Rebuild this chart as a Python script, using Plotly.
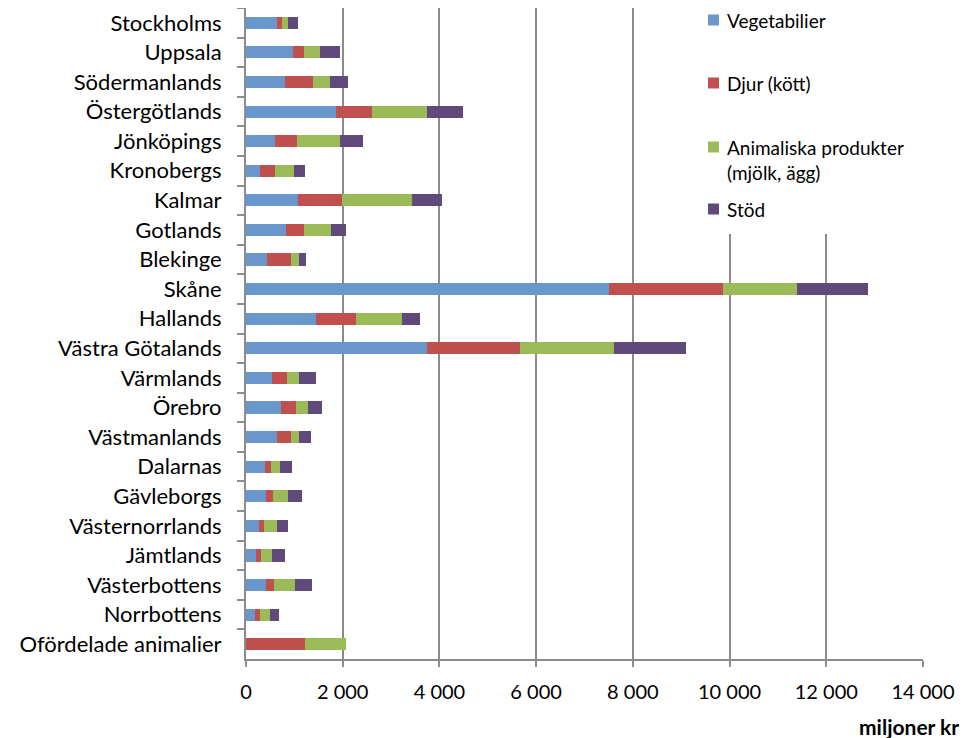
import plotly.graph_objects as go

categories = ["Stockholms", "Uppsala", "Södermanlands", "Östergötlands", "Jönköpings",
              "Kronobergs", "Kalmar", "Gotlands", "Blekinge", "Skåne", "Hallands",
              "Västra Götalands", "Värmlands", "Örebro", "Västmanlands", "Dalarnas",
              "Gävleborgs", "Västernorrlands", "Jämtlands", "Västerbottens",
              "Norrbottens", "Ofördelade animalier"]

vegetabilier = [641, 979, 799, 1861, 606, 290, 1082, 827, 441, 7514, 1448,
                3750, 544, 716, 633, 393, 420, 269, 207, 420, 192, 0]
djur = [104, 213, 579, 737, 449, 302, 910, 373, 496, 2343, 833,
        1908, 304, 310, 289, 116, 145, 95, 95, 151, 89, 1212]
animaliska = [124, 338, 366, 1152, 896, 407, 1448, 550, 151, 1545, 945,
              1952, 240, 262, 174, 200, 295, 269, 236, 434, 207, 862]
stod = [199, 406, 358, 730, 469, 228, 620, 318, 145, 1454, 364,
        1482, 352, 276, 240, 234, 304, 236, 260, 360, 194, 0]

series_names = ["Vegetabilier", "Djur (kött)",
                "Animaliska produkter<br>(mjölk, ägg)", "Stöd"]
series_values = [vegetabilier, djur, animaliska, stod]
series_colors = ["#6A97CB", "#C0504D", "#9BBB59", "#604A7B"]

fig = go.Figure()
for name, vals, color in zip(series_names, series_values, series_colors):
    fig.add_trace(go.Bar(
        y=categories, x=vals, name=name.replace("<br>", " "), orientation="h",
        marker=dict(color=color, line=dict(width=0)), showlegend=False,
    ))

font_family = "Lato, Carlito, 'Liberation Sans', sans-serif"
grid_color = "#8C8C8C"

# plot area in screenshot pixels (page has 8px body margin)
PX0, PX1, PY0, PY1 = 246, 923, 8, 659


def px_x(p):
    return (p - PX0) / (PX1 - PX0)


def px_y(p):
    return (PY1 - p) / (PY1 - PY0)


shapes = [dict(type="rect", xref="paper", yref="paper",
               x0=px_x(700), x1=1.0, y0=px_y(234), y1=1.0,
               fillcolor="white", line=dict(width=0), layer="above")]
annotations = []
legend_centers = [20, 83, 147, 209]
for name, color, cy in zip(series_names, series_colors, legend_centers):
    shapes.append(dict(type="rect", xref="paper", yref="paper",
                       x0=px_x(708), x1=px_x(719), y0=px_y(cy + 5.5), y1=px_y(cy - 5.5),
                       fillcolor=color, line=dict(width=0), layer="above"))
    annotations.append(dict(
        text=name, xref="paper", yref="paper", x=px_x(725), y=px_y(cy - 13),
        xanchor="left", yanchor="top", align="left", showarrow=False,
        font=dict(size=19, family=font_family, color="black"),
    ))

annotations.append(dict(
    text="<b>miljoner kr</b>", xref="paper", yref="paper",
    x=px_x(961), y=px_y(726), xanchor="right", yanchor="middle",
    showarrow=False, font=dict(size=21, family=font_family, color="black"),
))

fig.update_layout(
    width=965, height=730,
    barmode="stack", bargap=0.59,
    plot_bgcolor="white", paper_bgcolor="white",
    font=dict(family=font_family, size=20, color="black"),
    separators=", ",
    margin=dict(l=238, r=50, t=0, b=79),
    showlegend=False,
    shapes=shapes,
    annotations=annotations,
    xaxis=dict(
        range=[0, 14000], dtick=2000, tickformat=",d",
        showgrid=True, gridcolor=grid_color, gridwidth=2,
        showline=True, linecolor=grid_color, linewidth=1.5,
        ticks="outside", ticklen=6, tickcolor=grid_color, tickwidth=1.5,
        zeroline=False, tickfont=dict(size=20), ticklabelstandoff=8,
    ),
    yaxis=dict(
        autorange="reversed", type="category",
        showline=True, linecolor=grid_color, linewidth=2,
        ticks="outside", tickson="boundaries", ticklen=7,
        tickcolor=grid_color, tickwidth=1.5, showgrid=False,
        tickfont=dict(size=22), ticklabelstandoff=18,
    ),
)

fig.write_html("out.html")
